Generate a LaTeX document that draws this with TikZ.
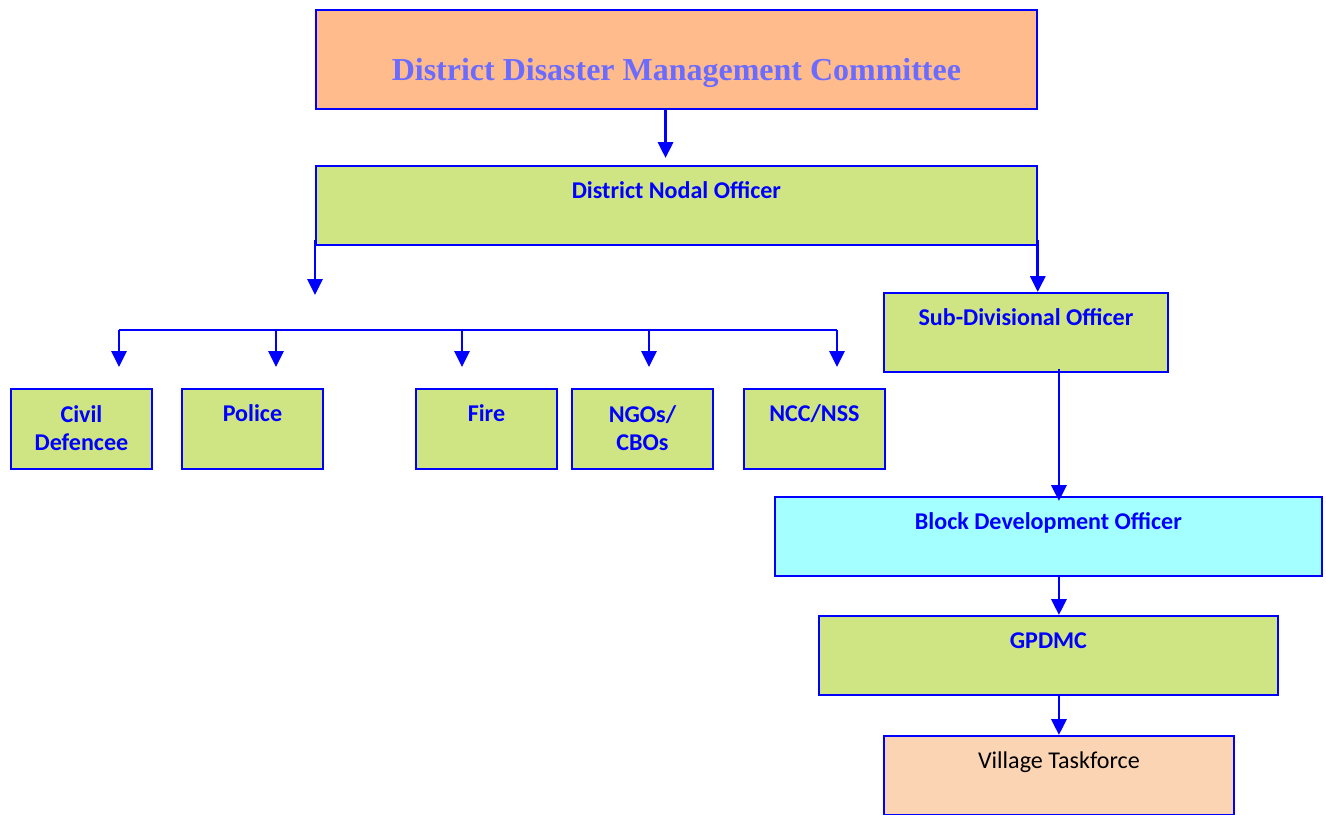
\documentclass[tikz,border=0pt]{standalone}
\usepackage{fontspec}
\setmainfont{Carlito}
\newfontfamily\titlefont{Liberation Serif}
\usetikzlibrary{arrows.meta, positioning, calc}
\definecolor{ddmcorange}{HTML}{FFBB8C}
\definecolor{officegreen}{HTML}{CFE583}
\definecolor{bdocyan}{HTML}{A4FFFF}
\definecolor{villagepeach}{HTML}{FBD4B4}
\definecolor{titleblue}{HTML}{6B6BFF}
\tikzstyle{box} = [rectangle, anchor=north west, inner ysep=0pt, draw=blue, line width=1.1pt, text=blue, align=center, node font=\fontsize{13.7}{16.4}\selectfont\bfseries]
\tikzstyle{office} = [box, text height=0.65cm, text depth=0.93cm, fill=officegreen]
\tikzstyle{agency} = [box, minimum width=2.82cm, text height=0.66cm, text depth=0.94cm, fill=officegreen]
\tikzstyle{twoline} = [text height=1.24cm, text depth=0.36cm]
\tikzstyle{arrow} = [line width=1.6pt, draw=blue, -{Triangle[length=9pt,width=8.5pt]}]
\tikzstyle{bus} = [line width=1.6pt, draw=blue]

\begin{document}
\begin{tikzpicture}[x=0.02cm, y=-0.02cm]
    \useasboundingbox (0,0) rectangle (1326,815);

    \node[box, fill=ddmcorange, minimum width=14.42cm, text height=1.42cm, text depth=0.56cm, text=titleblue, node font=\titlefont\fontsize{18.2}{22}\selectfont\bfseries] (ddmc) at (315,9) {District Disaster Management Committee};
    \node[office, minimum width=14.42cm] (dno) at (315,165) {District Nodal Officer};
    \node[office, minimum width=5.68cm] (sdo) at (883,292) {Sub-Divisional Officer};
    \node[office, minimum width=10.94cm, fill=bdocyan] (bdo) at (774,496) {Block Development Officer};
    \node[office, minimum width=9.18cm] (gpdmc) at (818,615) {GPDMC};
    \node[office, minimum width=7cm, fill=villagepeach, text=black, node font=\fontsize{13.7}{16.4}\selectfont] (vt) at (883,735) {Village Taskforce};

    \node[agency, twoline] (civil) at (10,388) {Civil\\Defencee};
    \node[agency] (police) at (181,388) {Police};
    \node[agency] (fire) at (415,388) {Fire};
    \node[agency, twoline] (ngo) at (571,388) {NGOs/\\CBOs};
    \node[agency] (ncc) at (743,388) {NCC/NSS};

    \coordinate (lefttip) at (315,295);
    \coordinate (busleft) at (119,330);
    \coordinate (busright) at (837,330);

    \draw[arrow, shorten >=0.14cm] ($(ddmc.south west)!0.485!(ddmc.south east)$) -- ($(dno.north west)!0.485!(dno.north east)$);
    \draw[arrow] ([yshift=0.12cm]dno.south west) -- (lefttip);
    \draw[arrow] ([yshift=0.12cm]dno.south east) -- (dno.south east |- sdo.north);
    \draw[bus] (busleft) -- (busright);
    \foreach \n/\x in {civil/119, police/276, fire/462, ngo/649, ncc/837}
        \draw[arrow, shorten >=0.42cm] (\x,330) -- (\x,330 |- \n.north);
    \draw[arrow] ([yshift=0.08cm]sdo.south -| vt.north) -- ([yshift=-0.1cm]bdo.north -| vt.north);
    \draw[arrow] (bdo.south -| vt.north) -- (gpdmc.north -| vt.north);
    \draw[arrow] (gpdmc.south -| vt.north) -- (vt.north);
\end{tikzpicture}
\end{document}
